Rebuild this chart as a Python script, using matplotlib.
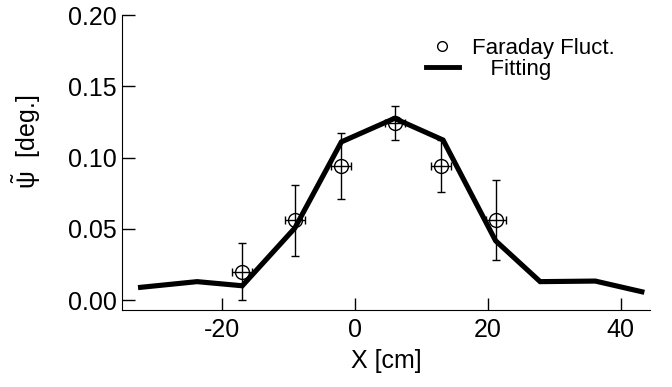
import matplotlib
matplotlib.use("Agg")
import matplotlib.pyplot as plt
from matplotlib.lines import Line2D

plt.rcParams["font.family"] = ["Liberation Sans", "DejaVu Sans"]
plt.rcParams["axes.unicode_minus"] = False
plt.rcParams["mathtext.fontset"] = "custom"
plt.rcParams["mathtext.rm"] = "Liberation Sans"
plt.rcParams["mathtext.it"] = "Liberation Sans"

# measured points (Faraday fluctuation)
x_meas = [-17.0, -9.0, -2.0, 6.0, 13.0, 21.2]
y_meas = [0.020, 0.056, 0.094, 0.124, 0.094, 0.056]
yerr_meas = [0.020, 0.025, 0.023, 0.012, 0.018, 0.028]
xerr_meas = [1.5, 1.5, 1.5, 1.5, 1.5, 1.5]

# fitting curve
x_fit = [-32.2, -23.7, -16.9, -9.0, -2.0, 6.0, 13.3, 21.2, 27.9, 36.2, 43.2]
y_fit = [0.0089, 0.0129, 0.0100, 0.0505, 0.1110, 0.1275, 0.1123, 0.0416, 0.0129, 0.0133, 0.0058]

x_ticks = [-20, 0, 20, 40]
y_ticks = [0.00, 0.05, 0.10, 0.15, 0.20]

fig = plt.figure(figsize=(6.72, 3.87), dpi=100)
ax = fig.add_axes([0.1815, 0.199, 0.7865, 0.762])

ax.plot(x_fit, y_fit, color="black", lw=3.7, solid_joinstyle="miter", zorder=2)
ax.errorbar(x_meas, y_meas, yerr=yerr_meas, xerr=xerr_meas, fmt="o",
            mfc="none", mec="black", mew=1.0, ms=10, ecolor="black",
            elinewidth=1.0, capsize=3, capthick=1.0, zorder=3)

ax.set_xlim(-35, 44.5)
ax.set_ylim(-0.007, 0.20)
ax.set_xticks(x_ticks)
ax.set_yticks(y_ticks)
ax.set_yticklabels([f"{v:.2f}" for v in y_ticks])
ax.spines["top"].set_visible(False)
ax.spines["right"].set_visible(False)
ax.spines["left"].set_bounds(-0.007, 0.20)
ax.tick_params(direction="in", length=9, width=1, labelsize=18)
ax.tick_params(axis="x", pad=6)
ax.tick_params(axis="y", pad=4)

ax.set_xlabel("X [cm]", fontsize=18, labelpad=5)
ax.set_ylabel(r"$\tilde{\psi}$  [deg.]", fontsize=18)
ax.yaxis.set_label_coords(-0.15, 0.57)

handles = [
    Line2D([], [], marker="o", ls="none", mfc="none", mec="black", ms=7, mew=1.0),
    Line2D([], [], color="black", lw=3.5),
]
ax.legend(handles, ["Faraday Fluct.", "   Fitting"], loc="upper left",
          bbox_to_anchor=(0.545, 0.976), frameon=False, fontsize=16,
          handlelength=1.5, handletextpad=0.6, labelspacing=0.0,
          borderaxespad=0.3)

fig.savefig("out.png", dpi=100)
